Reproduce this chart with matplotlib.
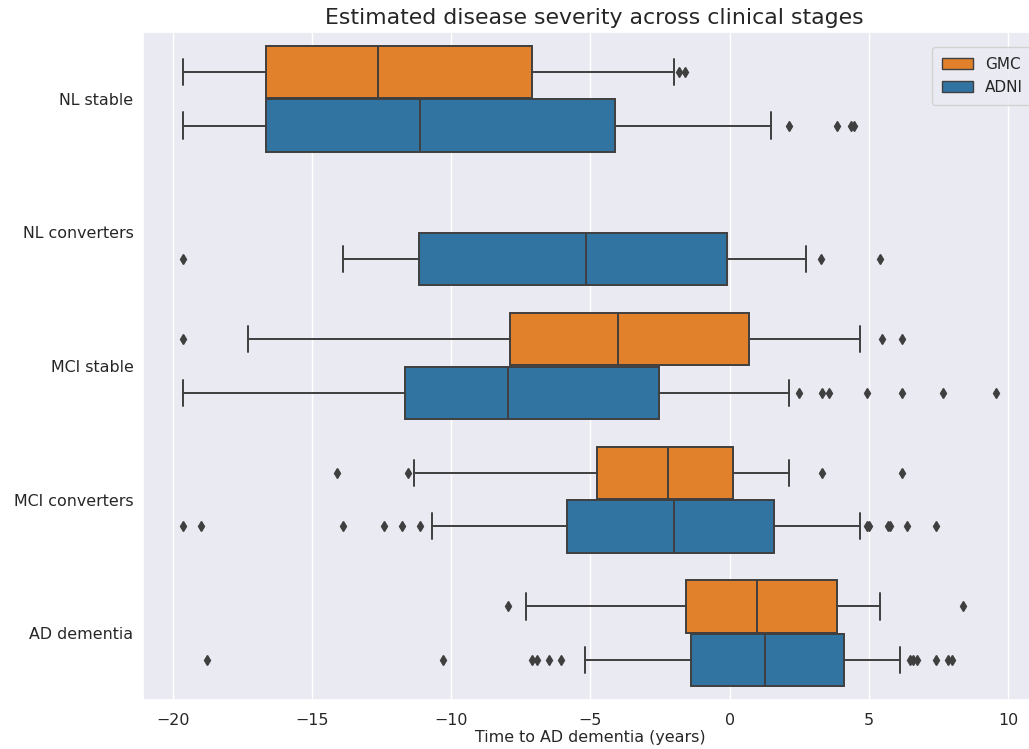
import numpy as np
import matplotlib
matplotlib.use('Agg')
from matplotlib import pyplot as plt
from matplotlib.patches import Patch
import seaborn as sns

sns.set_theme(style='darkgrid')

# clinical stages (top to bottom)
stages = ['NL stable', 'NL converters', 'MCI stable', 'MCI converters', 'AD dementia']
cohorts = ['GMC', 'ADNI']
colors = {'GMC': '#e1812c', 'ADNI': '#3274a1'}
edge = '#3f3f3f'

# box statistics, None where the cohort has no subjects
gmc_q1 = [-16.64, None, -7.90, -4.75, -1.57]
gmc_med = [-12.61, None, -4.01, -2.21, 0.98]
gmc_q3 = [-7.10, None, 0.70, 0.13, 3.86]
gmc_lo = [-19.61, None, -17.29, -11.33, -7.30]
gmc_hi = [-1.99, None, 4.67, 2.13, 5.40]
gmc_fliers = [
    [-1.80, -1.59],
    [],
    [-19.62, 5.48, 6.21],
    [-14.09, -11.55, 3.31, 6.21],
    [-7.95, 8.40],
]

adni_q1 = [-16.64, -11.14, -11.67, -5.83, -1.37]
adni_med = [-11.13, -5.17, -7.95, -1.99, 1.28]
adni_q3 = [-4.12, -0.09, -2.53, 1.59, 4.10]
adni_lo = [-19.61, -13.89, -19.61, -10.70, -5.18]
adni_hi = [1.49, 2.76, 2.12, 4.67, 6.12]
adni_fliers = [
    [2.12, 3.85, 4.38, 4.47],
    [-19.62, 3.29, 5.39],
    [2.48, 3.31, 3.57, 4.93, 6.20, 7.67, 9.57],
    [-19.62, -18.99, -13.89, -12.40, -11.76, -11.13, 4.94, 5.02, 5.69, 5.76, 6.39, 7.40],
    [-18.77, -10.29, -7.10, -6.90, -6.47, -6.04, 6.47, 6.58, 6.72, 7.40, 7.86, 8.00],
]

data = {
    'GMC': (gmc_q1, gmc_med, gmc_q3, gmc_lo, gmc_hi, gmc_fliers),
    'ADNI': (adni_q1, adni_med, adni_q3, adni_lo, adni_hi, adni_fliers),
}

fig = plt.figure(figsize=(10.29, 7.49), dpi=100)
ax = fig.add_axes([0.1393, 0.0654, 0.8687, 0.8919])

width = 0.4
for k, cohort in enumerate(cohorts):
    q1, med, q3, lo, hi, fl = data[cohort]
    offset = -width / 2 if k == 0 else width / 2
    stats = []; pos = []
    for i in range(len(stages)):
        if med[i] is None:
            continue
        stats.append({'q1': q1[i], 'med': med[i], 'q3': q3[i],
                      'whislo': lo[i], 'whishi': hi[i],
                      'fliers': np.array(fl[i])})
        pos.append(i + offset)
    ax.bxp(stats, positions=pos, widths=width * 0.98, vert=False,
           patch_artist=True, manage_ticks=False,
           boxprops=dict(facecolor=colors[cohort], edgecolor=edge, linewidth=1.4),
           medianprops=dict(color=edge, linewidth=1.4),
           whiskerprops=dict(color=edge, linewidth=1.4),
           capprops=dict(color=edge, linewidth=1.4),
           flierprops=dict(marker='d', markerfacecolor=edge, markeredgecolor=edge,
                           markersize=5))

ax.set_yticks(range(len(stages)))
ax.set_yticklabels(stages)
ax.set_ylim(4.5, -0.5)
ax.set_xlim(-21.05, 11.05)
ax.yaxis.grid(False)
ax.tick_params(axis='both', labelsize=11.4)
ax.tick_params(axis='y', pad=1)

ax.set_xlabel('Time to AD dementia (years)', fontsize=11.4, labelpad=1)
ax.set_title('Estimated disease severity across clinical stages', fontsize=15.8, x=0.505)

handles = [Patch(facecolor=colors[c], edgecolor=edge, label=c) for c in cohorts]
ax.legend(handles=handles, loc='upper right', fontsize=11, borderaxespad=0, borderpad=0.65,
          bbox_to_anchor=(1033 / 1029, 1 - 47 / 749), bbox_transform=fig.transFigure)

fig.savefig('out.png', dpi=100)
